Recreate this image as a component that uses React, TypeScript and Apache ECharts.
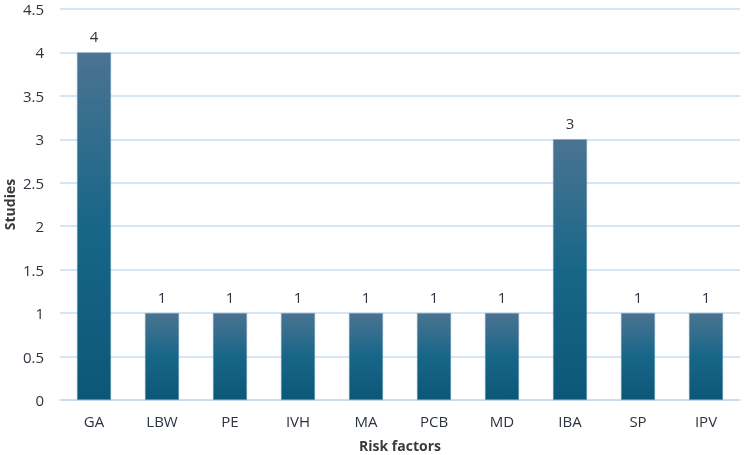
import React, { useEffect, useRef } from "react";
import * as echarts from "echarts";

const categories = ["GA", "LBW", "PE", "IVH", "MA", "PCB", "MD", "IBA", "SP", "IPV"];
const studies = [4, 1, 1, 1, 1, 1, 1, 3, 1, 1];

export default function App() {
  const ref = useRef<HTMLDivElement>(null);

  useEffect(() => {
    if (!ref.current) return;
    const chart = echarts.init(ref.current, null, { renderer: "svg" });
    const font = "'Open Sans', 'Noto Sans', sans-serif";
    chart.setOption({
      animation: false,
      textStyle: { fontFamily: font },
      grid: {
        left: 60,
        right: 4,
        top: 9,
        bottom: 55,
        containLabel: false,
        outerBoundsMode: "none",
      },
      xAxis: {
        type: "category",
        data: categories,
        name: "Risk factors",
        nameLocation: "middle",
        nameGap: 38,
        nameMoveOverlap: false,
        nameTextStyle: { fontFamily: font, fontWeight: "bold", fontSize: 14, color: "#3a3a3a" },
        axisLine: { lineStyle: { color: "#c6dcf2", width: 1.5 } },
        axisTick: { show: false },
        axisLabel: { fontFamily: font, fontSize: 15, color: "#2d3340", margin: 13 },
      },
      yAxis: {
        type: "value",
        min: 0,
        max: 4.5,
        interval: 0.5,
        name: "Studies",
        nameLocation: "middle",
        nameGap: 44,
        nameMoveOverlap: false,
        nameTextStyle: { fontFamily: font, fontWeight: "bold", fontSize: 14, color: "#3a3a3a" },
        axisLine: { show: false },
        axisTick: { show: false },
        axisLabel: { fontFamily: font, fontSize: 15, color: "#2d3340", margin: 16, verticalAlign: "middle" },
        splitLine: { lineStyle: { color: "#c6dcf2", width: 1.5 } },
      },
      series: [
        {
          type: "bar",
          data: studies,
          barWidth: "50%",
          itemStyle: {
            color: new echarts.graphic.LinearGradient(0, 0, 0, 1, [
              { offset: 0, color: "#4b7391" },
              { offset: 0.5, color: "#176688" },
              { offset: 1, color: "#0c5778" },
            ]),
            borderColor: "#7fa6c4",
            borderWidth: 0.5,
          },
          label: {
            show: true,
            position: "top",
            distance: 9,
            fontFamily: font,
            fontSize: 15,
            color: "#2d3340",
          },
        },
      ],
    });
    return () => chart.dispose();
  }, []);

  return (
    <div
      ref={ref}
      style={{ position: "fixed", left: 0, top: 0, width: 744, height: 455 }}
    />
  );
}
